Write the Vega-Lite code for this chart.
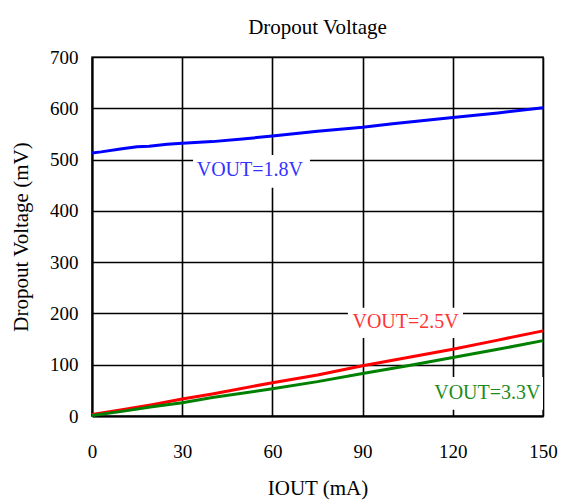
{
  "$schema": "https://vega.github.io/schema/vega-lite/v6.json",
  "autosize": "none",
  "width": 451,
  "height": 359,
  "padding": {"left": 92, "top": 57, "right": 23, "bottom": 84},
  "background": "white",
  "title": {"text": "Dropout Voltage", "font": "Liberation Serif", "fontSize": 21, "fontWeight": "normal", "color": "black", "offset": 10, "anchor": "middle"},
  "config": {
    "view": {"stroke": "#777777", "strokeWidth": 2},
    "axis": {"labelFont": "Liberation Serif", "titleFont": "Liberation Serif", "labelFontSize": 19, "titleFontSize": 21, "titleFontWeight": "normal", "labelColor": "black", "titleColor": "black", "gridColor": "black", "gridWidth": 1.6, "gridOpacity": 1, "domainColor": "black", "domainWidth": 2, "ticks": false, "labelFlush": false, "labelOverlap": false}
  },
  "datasets": {
    "curves": [
      {"iout": 0, "mv": 513, "s": "VOUT=1.8V"},
      {"iout": 3, "mv": 515, "s": "VOUT=1.8V"},
      {"iout": 10, "mv": 521, "s": "VOUT=1.8V"},
      {"iout": 15, "mv": 525, "s": "VOUT=1.8V"},
      {"iout": 19, "mv": 526, "s": "VOUT=1.8V"},
      {"iout": 25, "mv": 530, "s": "VOUT=1.8V"},
      {"iout": 30, "mv": 532, "s": "VOUT=1.8V"},
      {"iout": 40, "mv": 535, "s": "VOUT=1.8V"},
      {"iout": 50, "mv": 540, "s": "VOUT=1.8V"},
      {"iout": 60, "mv": 546, "s": "VOUT=1.8V"},
      {"iout": 75, "mv": 555, "s": "VOUT=1.8V"},
      {"iout": 90, "mv": 563, "s": "VOUT=1.8V"},
      {"iout": 100, "mv": 570, "s": "VOUT=1.8V"},
      {"iout": 120, "mv": 582, "s": "VOUT=1.8V"},
      {"iout": 135, "mv": 591, "s": "VOUT=1.8V"},
      {"iout": 150, "mv": 601, "s": "VOUT=1.8V"},
      {"iout": 0, "mv": 3, "s": "VOUT=2.5V"},
      {"iout": 10, "mv": 12, "s": "VOUT=2.5V"},
      {"iout": 15, "mv": 17, "s": "VOUT=2.5V"},
      {"iout": 20, "mv": 22, "s": "VOUT=2.5V"},
      {"iout": 30, "mv": 33, "s": "VOUT=2.5V"},
      {"iout": 40, "mv": 43, "s": "VOUT=2.5V"},
      {"iout": 60, "mv": 65, "s": "VOUT=2.5V"},
      {"iout": 75, "mv": 80, "s": "VOUT=2.5V"},
      {"iout": 90, "mv": 98, "s": "VOUT=2.5V"},
      {"iout": 105, "mv": 114, "s": "VOUT=2.5V"},
      {"iout": 120, "mv": 130, "s": "VOUT=2.5V"},
      {"iout": 135, "mv": 148, "s": "VOUT=2.5V"},
      {"iout": 150, "mv": 166, "s": "VOUT=2.5V"},
      {"iout": 0, "mv": 1, "s": "VOUT=3.3V"},
      {"iout": 10, "mv": 9, "s": "VOUT=3.3V"},
      {"iout": 20, "mv": 18, "s": "VOUT=3.3V"},
      {"iout": 30, "mv": 26, "s": "VOUT=3.3V"},
      {"iout": 40, "mv": 36, "s": "VOUT=3.3V"},
      {"iout": 60, "mv": 53, "s": "VOUT=3.3V"},
      {"iout": 75, "mv": 67, "s": "VOUT=3.3V"},
      {"iout": 90, "mv": 83, "s": "VOUT=3.3V"},
      {"iout": 105, "mv": 98, "s": "VOUT=3.3V"},
      {"iout": 120, "mv": 114, "s": "VOUT=3.3V"},
      {"iout": 135, "mv": 130, "s": "VOUT=3.3V"},
      {"iout": 150, "mv": 147, "s": "VOUT=3.3V"}
    ],
    "labels": [
      {"s": "VOUT=1.8V", "x": 33.6, "x2": 72.5, "y": 509, "y2": 445, "tx": 52.5, "ty": 479},
      {"s": "VOUT=2.5V", "x": 85.1, "x2": 123.4, "y": 211, "y2": 152, "tx": 104.3, "ty": 183},
      {"s": "VOUT=3.3V", "x": 110.7, "x2": 150, "y": 76, "y2": 12, "tx": 131.5, "ty": 45}
    ]
  },
  "layer": [
    {
      "data": {"name": "labels"},
      "mark": {"type": "rect", "fill": "white", "stroke": null},
      "encoding": {
        "x": {"field": "x", "type": "quantitative", "scale": {"domain": [0, 150]}},
        "x2": {"field": "x2"},
        "y": {"field": "y", "type": "quantitative", "scale": {"domain": [0, 700]}},
        "y2": {"field": "y2"}
      }
    },
    {
      "data": {"name": "curves"},
      "mark": {"type": "line", "strokeWidth": 3},
      "encoding": {
        "x": {"field": "iout", "type": "quantitative", "title": "IOUT (mA)", "scale": {"domain": [0, 150], "nice": false},
          "axis": {"values": [0, 30, 60, 90, 120, 150], "labelPadding": 26, "titlePadding": 16, "grid": true, "zindex": 0}},
        "y": {"field": "mv", "type": "quantitative", "title": "Dropout Voltage (mV)", "scale": {"domain": [0, 700], "nice": false},
          "axis": {"values": [0, 100, 200, 300, 400, 500, 600, 700], "labelPadding": 14, "titlePadding": 18, "grid": true, "zindex": 0}},
        "color": {"field": "s", "type": "nominal", "legend": null,
          "scale": {"domain": ["VOUT=1.8V", "VOUT=2.5V", "VOUT=3.3V"], "range": ["#0000ff", "#ff0000", "#008000"]}}
      }
    },
    {
      "data": {"name": "labels"},
      "mark": {"type": "text", "font": "Liberation Serif", "fontSize": 20, "align": "center", "baseline": "middle"},
      "encoding": {
        "x": {"field": "tx", "type": "quantitative"},
        "y": {"field": "ty", "type": "quantitative"},
        "text": {"field": "s"},
        "color": {"field": "s", "type": "nominal", "legend": null,
          "scale": {"domain": ["VOUT=1.8V", "VOUT=2.5V", "VOUT=3.3V"], "range": ["#3333ff", "#ff3333", "#1a8c1a"]}}
      }
    }
  ],
  "resolve": {"scale": {"color": "independent"}}
}
